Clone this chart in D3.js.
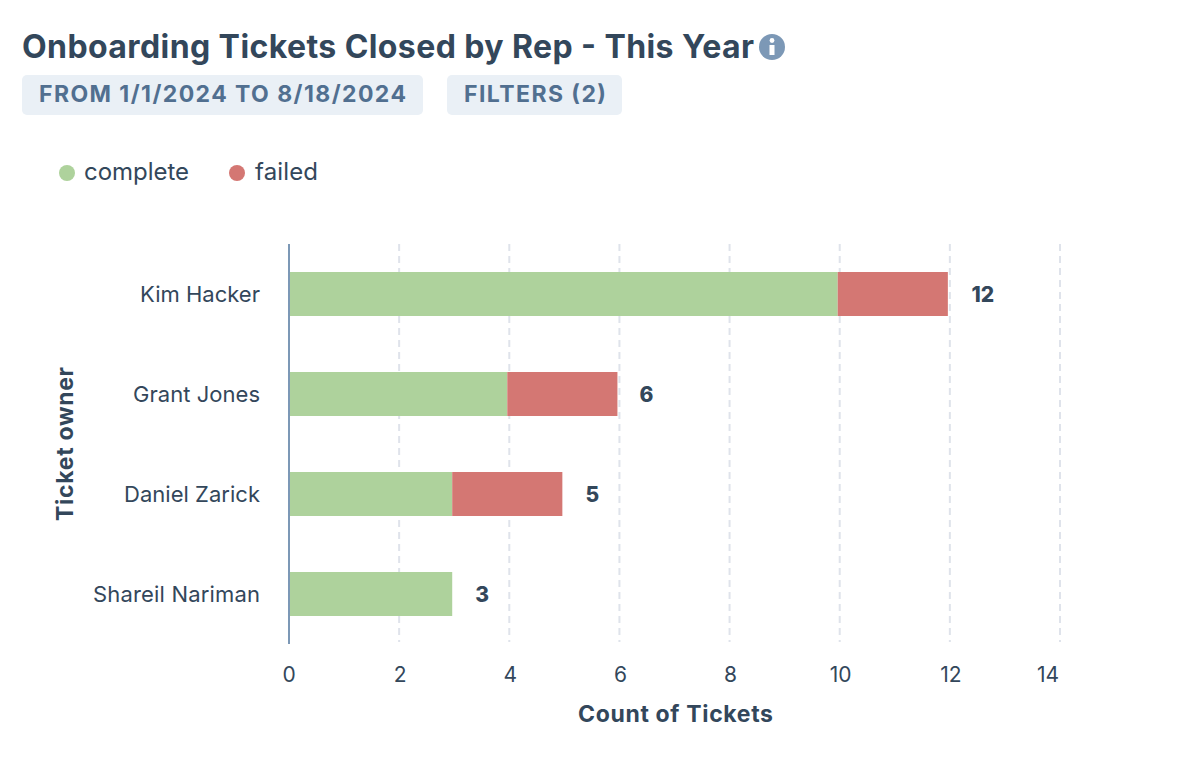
<!DOCTYPE html>
<html><head><meta charset="utf-8">
<script src="https://cdn.jsdelivr.net/npm/d3@7"></script>
<style>html,body{margin:0;padding:0;background:#fff}svg{display:block}text{font-family:Inter,Lato,sans-serif}</style>
</head><body><svg id="c" width="1182" height="780"></svg>
<script>
const owners=["Kim Hacker","Grant Jones","Daniel Zarick","Shareil Nariman"];
const complete=[10,4,3,3];
const failed=[2,2,2,0];
const xTicks=[0,2,4,6,8,10,12,14];
const seriesNames=["complete","failed"];
const seriesColors=["#aed29c","#d47773"];
const dark="#33475b";
const svg=d3.select("#c");
function label(sel,x,y,size,weight,fill,str,w,anchor){
 return sel.append("text").attr("x",x).attr("y",y).attr("font-size",size).attr("font-weight",weight).attr("fill",fill).attr("text-anchor",anchor||"start").attr("textLength",w).attr("lengthAdjust","spacing").text(str);
}
label(svg,22,58,32,700,dark,"Onboarding Tickets Closed by Rep - This Year",732);
svg.append("circle").attr("cx",772).attr("cy",47).attr("r",13).attr("fill","#7c98b6");
svg.append("circle").attr("cx",772).attr("cy",40.5).attr("r",2.4).attr("fill","#fff");
svg.append("rect").attr("x",769.5).attr("y",45).attr("width",5).attr("height",10).attr("fill","#fff");
const chips=[["FROM 1/1/2024 TO 8/18/2024",22,401,39,367],["FILTERS (2)",447,175,464,142]];
chips.forEach(c=>{
 svg.append("rect").attr("x",c[1]).attr("y",75).attr("width",c[2]).attr("height",40).attr("rx",5).attr("fill","#eaf0f6");
 label(svg,c[3],102,23,700,"#516f90",c[0],c[4]);
});
const legendX=[[67,84,105],[237,255,63]];
seriesNames.forEach((n,i)=>{
 svg.append("circle").attr("cx",legendX[i][0]).attr("cy",173).attr("r",8).attr("fill",seriesColors[i]);
 label(svg,legendX[i][1],180,24,400,dark,n,legendX[i][2]);
});
const x=d3.scaleLinear().domain([0,14]).range([289,1060]);
const xBar=d3.scaleLinear().domain([0,14]).range([287,1058]);
const y=d3.scaleBand().domain(owners).range([244,644]).paddingInner(.56).paddingOuter(.28);
const g=svg.append("g");
g.selectAll(".grid").data(xTicks.slice(1)).join("line").attr("x1",d=>x(d)).attr("x2",d=>x(d)).attr("y1",244).attr("y2",642).attr("stroke","#dfe3eb").attr("stroke-width",2).attr("stroke-dasharray","7 5");
const stacked=d3.stack().keys(seriesNames).value((d,k)=>d[k])(owners.map((o,i)=>({owner:o,complete:complete[i],failed:failed[i]})));
stacked.forEach((s,si)=>{
 g.selectAll(".b"+si).data(s.filter(d=>d[1]>d[0])).join("rect").attr("x",d=>Math.max(289,xBar(d[0]))).attr("width",d=>xBar(d[1])-Math.max(289,xBar(d[0]))).attr("y",d=>y(d.data.owner)).attr("height",y.bandwidth()).attr("fill",seriesColors[si]);
});
g.append("line").attr("x1",289).attr("x2",289).attr("y1",244).attr("y2",644).attr("stroke","#7c98b6").attr("stroke-width",2);
const ownerW=[120,127,136,167];
const totalOffset=[35,29,30,30];
owners.forEach((o,i)=>{
 const cy=y(o)+y.bandwidth()/2;
 label(g,260-ownerW[i],cy+8,22,400,dark,o,ownerW[i]);
 g.append("text").attr("x",xBar(complete[i]+failed[i])+totalOffset[i]).attr("y",cy+8).attr("text-anchor","middle").attr("font-size",21).attr("font-weight",800).attr("fill",dark).text(complete[i]+failed[i]);
});
const tickShift=[0,1,1,1,1,1,1,-12];
xTicks.forEach((t,i)=>{
 g.append("text").attr("x",x(t)+tickShift[i]).attr("y",682).attr("text-anchor","middle").attr("font-size",21).attr("fill",dark).text(t);
});
label(svg,578,722,23,700,dark,"Count of Tickets",195);
svg.append("text").attr("transform","translate(73,521) rotate(-90)").attr("font-size",23).attr("font-weight",700).attr("fill",dark).attr("textLength",154).attr("lengthAdjust","spacing").text("Ticket owner");
</script></body></html>
